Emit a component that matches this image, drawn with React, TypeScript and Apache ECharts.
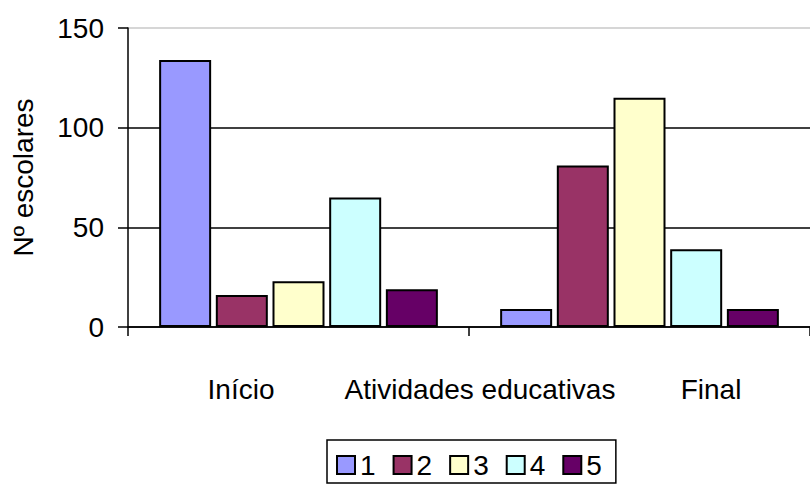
import React, { useEffect, useRef } from "react";
import * as echarts from "echarts";

const categories = ["Início", "Final"];
const seriesNames = ["1", "2", "3", "4", "5"];
const seriesValues = [
  [134, 9],
  [16, 81],
  [23, 115],
  [65, 39],
  [19, 9],
];
const seriesColors = ["#9999FF", "#993366", "#FFFFCC", "#CCFFFF", "#660066"];
const xLabels = [
  { text: "Início", x: 241 },
  { text: "Atividades educativas", x: 480 },
  { text: "Final", x: 711 },
];
const yAxisName = "Nº escolares";
const FONT = "'Liberation Sans', Arial, sans-serif";

export default function App() {
  const ref = useRef<HTMLDivElement>(null);
  useEffect(() => {
    if (!ref.current) return;
    const chart = echarts.init(ref.current, null, { renderer: "svg" });
    chart.setOption({
      animation: false,
      backgroundColor: "#ffffff",
      textStyle: { fontFamily: FONT },
      grid: { left: 128, top: 28, width: 690, height: 299 },
      xAxis: {
        type: "category",
        data: categories,
        axisLine: { show: true, lineStyle: { color: "#000", width: 1.5 } },
        axisTick: { show: true, length: 9, lineStyle: { color: "#000", width: 1.5 } },
        axisLabel: { show: false },
        splitLine: { show: false },
      },
      yAxis: {
        type: "value",
        min: 0,
        max: 150,
        interval: 50,
        name: yAxisName,
        nameLocation: "middle",
        nameGap: 91,
        nameTextStyle: { fontSize: 28, color: "#000", fontFamily: FONT },
        axisLine: { show: true, lineStyle: { color: "#000", width: 1.5 } },
        axisTick: { show: true, length: 10, lineStyle: { color: "#000", width: 1.5 } },
        axisLabel: { fontSize: 28, color: "#000", margin: 24, fontFamily: FONT },
        splitLine: {
          show: true,
          lineStyle: { color: ["#000", "#000", "#000", "#c8c8c8"], width: 1.5 },
        },
      },
      legend: {
        data: seriesNames,
        left: 327,
        top: 440,
        orient: "horizontal",
        padding: [11, 14, 4, 9],
        itemGap: 17,
        itemWidth: 18,
        itemHeight: 18,
        borderColor: "#000",
        borderWidth: 1.5,
        backgroundColor: "#fff",
        icon: "rect",
        itemStyle: { borderColor: "#000", borderWidth: 2 },
        textStyle: { fontSize: 28, color: "#000", fontFamily: FONT },
      },
      graphic: xLabels.map((l) => ({
        type: "text",
        x: l.x,
        y: 389,
        style: {
          text: l.text,
          fontSize: 28,
          fontFamily: FONT,
          fill: "#000",
          align: "center",
          verticalAlign: "middle",
        },
      })),
      series: seriesNames.map((name, i) => ({
        name,
        type: "bar",
        data: seriesValues[i],
        barWidth: 52,
        barGap: "9%",
        itemStyle: { color: seriesColors[i], borderColor: "#000", borderWidth: 2 },
      })),
    });
    return () => chart.dispose();
  }, []);
  return (
    <div
      ref={ref}
      style={{ position: "absolute", left: 0, top: 0, width: 810, height: 485 }}
    />
  );
}
